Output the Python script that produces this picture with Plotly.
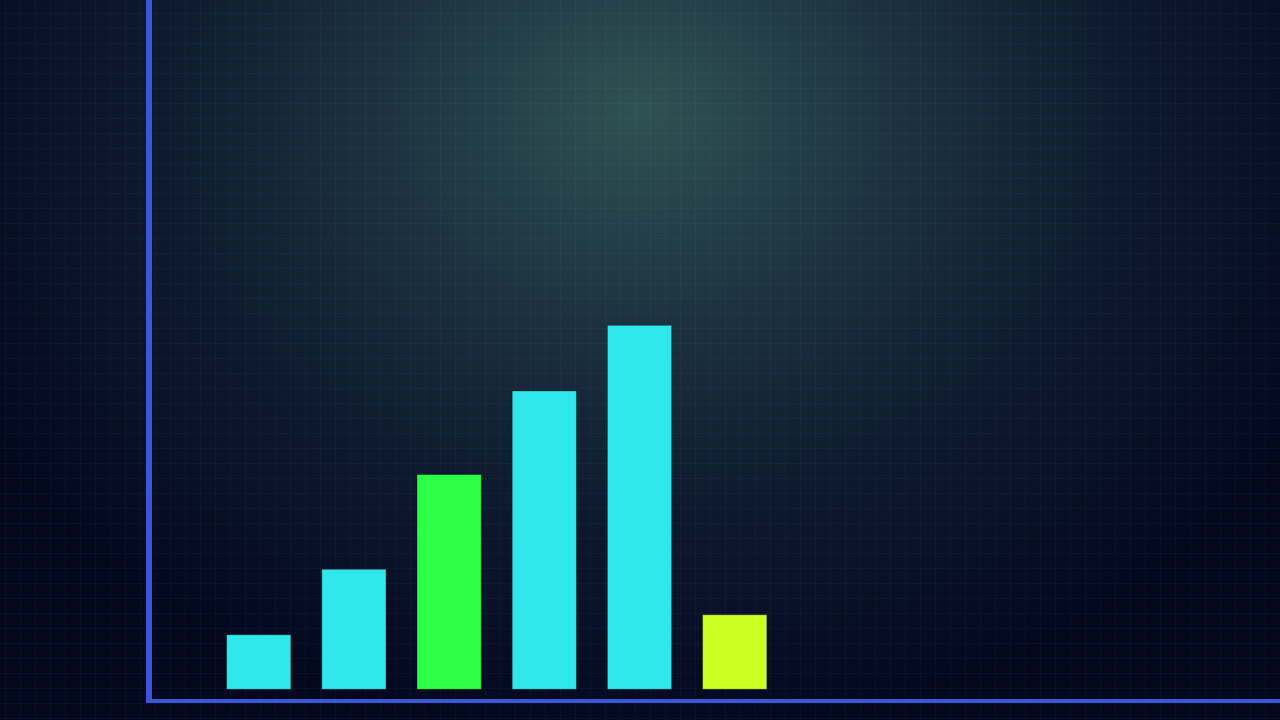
import base64
import plotly.graph_objects as go

# bar chart data
labels = ["A", "B", "C", "D", "E", "F"]
values = [15, 33, 59, 82, 100, 20.5]
colors = ["#30e8ec", "#30e8ec", "#2cff45", "#30e8ec", "#30e8ec", "#ccff22"]

W, H = 1280, 720
L, B = 152, 21
pw, ph = W - L, H - B

# glow + faint grid background as an svg image
svg = f"""<svg xmlns="http://www.w3.org/2000/svg" width="{W}" height="{H}" viewBox="0 0 {W} {H}">
<defs>
<radialGradient id="glow" gradientUnits="userSpaceOnUse" cx="640" cy="110" r="760"
 gradientTransform="translate(640 110) scale(1 0.82) translate(-640 -110)">
<stop offset="0" stop-color="#2f5253"/>
<stop offset="0.35" stop-color="#1c3140"/>
<stop offset="0.65" stop-color="#0d192e"/>
<stop offset="1" stop-color="#03081f"/>
</radialGradient>
<pattern id="grid" width="15" height="15" patternUnits="userSpaceOnUse" x="5" y="13">
<path d="M15 0 L0 0 0 15" fill="none" stroke="#a8c4ff" stroke-opacity="0.05" stroke-width="1.5"/>
</pattern>
</defs>
<rect width="{W}" height="{H}" fill="#03081f"/>
<rect width="{W}" height="{H}" fill="url(#glow)"/>
<rect width="{W}" height="{H}" fill="url(#grid)"/>
</svg>"""
bg = "data:image/svg+xml;base64," + base64.b64encode(svg.encode()).decode()

fig = go.Figure(go.Bar(
    x=list(range(len(labels))),
    y=values,
    width=0.675,
    marker=dict(color=colors, line=dict(color="rgba(0,0,0,0.35)", width=1)),
    hovertext=labels,
))

fig.update_layout(
    width=W, height=H,
    margin=dict(l=L, r=0, t=0, b=B),
    paper_bgcolor="#03081f",
    plot_bgcolor="rgba(0,0,0,0)",
    showlegend=False,
    images=[dict(source=bg, xref="paper", yref="paper",
                 x=-L / pw, y=1, sizex=W / pw, sizey=H / ph,
                 xanchor="left", yanchor="top", sizing="stretch", layer="below")],
)
fig.update_xaxes(range=[-1.121, 10.728], showgrid=False, zeroline=False,
                 showticklabels=False, ticks="", showline=True,
                 linecolor="#3b56d9", linewidth=4)
fig.update_yaxes(range=[-2.66, 189.4], showgrid=False, zeroline=False,
                 showticklabels=False, ticks="", showline=True,
                 linecolor="#3b56d9", linewidth=6)

# drop the default page margin so the chart fills the window
fig.write_html("out.html", config={"displayModeBar": False},
               post_script="document.body.style.margin='0';"
                           "document.body.style.background='#03081f';"
                           "document.body.style.overflow='hidden';")
